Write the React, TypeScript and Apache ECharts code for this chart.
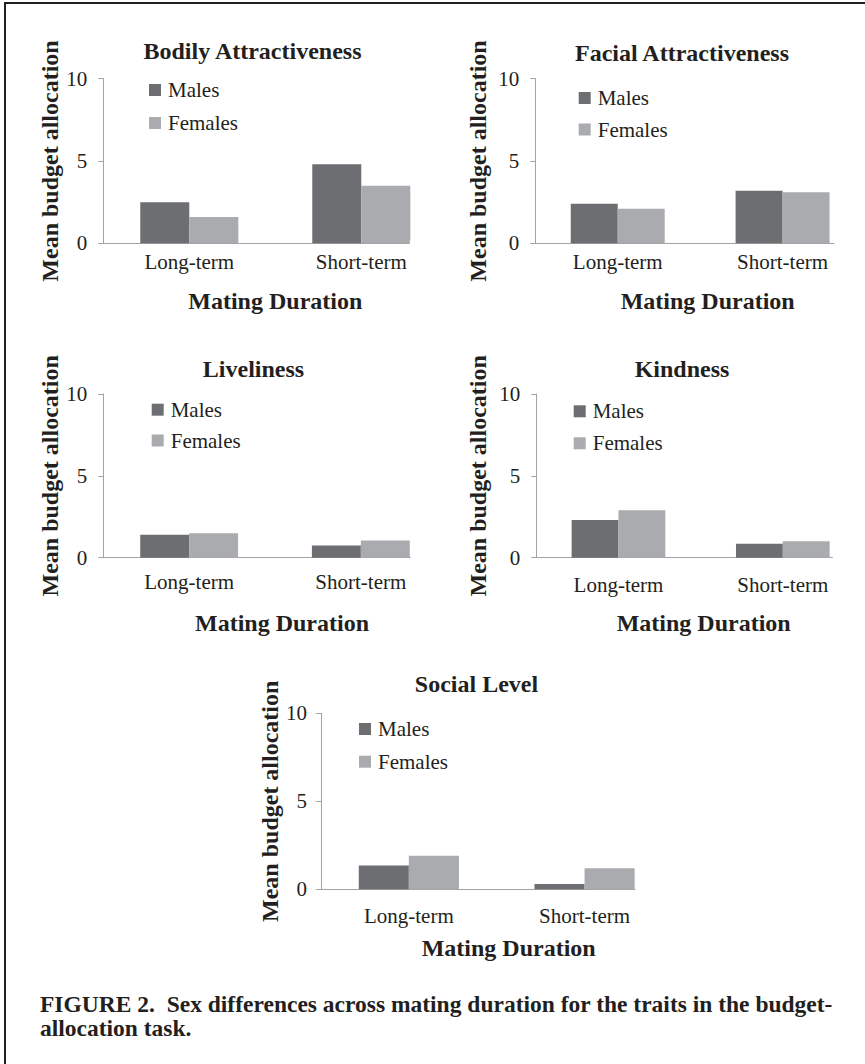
import React, { useEffect, useRef } from 'react';
import * as echarts from 'echarts';

// ---------- data ----------
const categories = ['Long-term', 'Short-term'];
const seriesNames = ['Males', 'Females'];
const traitTitles = ['Bodily Attractiveness', 'Facial Attractiveness', 'Liveliness', 'Kindness', 'Social Level'];
const bodilyMales = [2.5, 4.8];
const bodilyFemales = [1.6, 3.5];
const facialMales = [2.4, 3.2];
const facialFemales = [2.1, 3.1];
const livelinessMales = [1.4, 0.75];
const livelinessFemales = [1.5, 1.05];
const kindnessMales = [2.3, 0.85];
const kindnessFemales = [2.9, 1.0];
const socialMales = [1.35, 0.3];
const socialFemales = [1.9, 1.2];
const yMin = 0;
const yMax = 10;
const yInterval = 5;
const yAxisName = 'Mean budget allocation';
const xAxisName = 'Mating Duration';
const captionLines = [
  'FIGURE 2.  Sex differences across mating duration for the traits in the budget-',
  'allocation task.',
];

const malesData = [bodilyMales, facialMales, livelinessMales, kindnessMales, socialMales];
const femalesData = [bodilyFemales, facialFemales, livelinessFemales, kindnessFemales, socialFemales];

// ---------- layout ----------
const FONT = '"Liberation Serif", "Times New Roman", serif';
const TEXT = '#231f20';
const AXIS = '#a3a3a3';
const MALE_COLOR = '#6d6e71';
const FEMALE_COLOR = '#a9abae';
const LABEL_SIZE = 21;

const layouts = [
  { left: 103.3, top: 78.7, catW: 172, h: 164.6, visW: 306, tx: 252.5, ty: 51.3, lx: 149, ly: 79.5, lg: 12, yGap: 40, xGap: 46, xPad: 0, lm: 8, ym: 16 },
  { left: 535.3, top: 78.7, catW: 166.8, h: 164.6, visW: 298.5, tx: 682, ty: 53, lx: 578.7, ly: 87.5, lg: 10.5, yGap: 45.6, xGap: 46, xPad: 15, lm: 8, ym: 16 },
  { left: 103.3, top: 394, catW: 171.7, h: 163.7, visW: 307, tx: 253.5, ty: 369, lx: 151.7, ly: 399.2, lg: 9.8, yGap: 41, xGap: 53.6, xPad: 14, lm: 13.5, ym: 16 },
  { left: 536.3, top: 394, catW: 165.4, h: 163.7, visW: 296, tx: 682, ty: 369, lx: 573.7, ly: 400.8, lg: 11, yGap: 46.6, xGap: 53.6, xPad: 6, lm: 16.5, ym: 16 },
  { left: 321, top: 713.3, catW: 175.7, h: 176, visW: 314, tx: 476.5, ty: 683.7, lx: 359, ly: 718.5, lg: 11.7, yGap: 37, xGap: 47, xPad: 24, lm: 16.5, ym: 14 },
];

export default function App() {
  const ref = useRef<HTMLDivElement>(null);

  useEffect(() => {
    document.body.style.margin = '0';
    if (!ref.current) return;
    const chart = echarts.init(ref.current, undefined, { renderer: 'svg' });

    const grid: any[] = [];
    const xAxis: any[] = [];
    const yAxis: any[] = [];
    const series: any[] = [];
    const legend: any[] = [];
    const graphic: any[] = [];

    layouts.forEach((L, i) => {
      const fullW = L.catW * categories.length;
      grid.push({ left: L.left, top: L.top, width: fullW, height: L.h, containLabel: false });
      xAxis.push({
        type: 'category',
        gridIndex: i,
        data: categories,
        axisLine: { show: true, lineStyle: { color: AXIS, width: 1 } },
        axisTick: { show: false },
        axisLabel: { fontSize: LABEL_SIZE, fontFamily: FONT, color: TEXT, margin: L.lm },
        name: xAxisName,
        nameLocation: 'middle',
        nameGap: L.xGap,
        nameTextStyle: { fontSize: 24, fontWeight: 'bold', fontFamily: FONT, color: TEXT, padding: [0, 0, 0, L.xPad] },
      });
      yAxis.push({
        type: 'value',
        gridIndex: i,
        min: yMin,
        max: yMax,
        interval: yInterval,
        axisLine: { show: true, lineStyle: { color: AXIS, width: 1 } },
        axisTick: { show: true, length: 5, lineStyle: { color: AXIS } },
        axisLabel: { fontSize: LABEL_SIZE, fontFamily: FONT, color: TEXT, margin: L.ym },
        splitLine: { show: false },
        name: yAxisName,
        nameLocation: 'middle',
        nameRotate: 90,
        nameGap: L.yGap,
        nameTextStyle: { fontSize: 24, fontWeight: 'bold', fontFamily: FONT, color: TEXT },
      });
      series.push({
        type: 'bar',
        name: seriesNames[0],
        xAxisIndex: i,
        yAxisIndex: i,
        data: malesData[i],
        itemStyle: { color: MALE_COLOR },
        barGap: '0%',
        barCategoryGap: '43%',
      });
      series.push({
        type: 'bar',
        name: seriesNames[1],
        xAxisIndex: i,
        yAxisIndex: i,
        data: femalesData[i],
        itemStyle: { color: FEMALE_COLOR },
        barGap: '0%',
        barCategoryGap: '43%',
      });
      legend.push({
        left: L.lx,
        top: L.ly,
        orient: 'vertical',
        padding: 0,
        itemWidth: 12,
        itemHeight: 12,
        itemGap: L.lg,
        icon: 'rect',
        selectedMode: false,
        data: seriesNames,
        textStyle: { fontSize: LABEL_SIZE, fontFamily: FONT, color: TEXT, padding: [0, 0, 0, 2] },
      });
      graphic.push({
        type: 'text',
        x: L.tx,
        y: L.ty,
        z: 100,
        style: { text: traitTitles[i], font: `bold 24px ${FONT}`, fill: TEXT, align: 'center', verticalAlign: 'middle' },
      });
      // the source figure is cropped at the plot's right edge: hide the baseline beyond it
      const coverX = L.left + L.visW + 0.5;
      graphic.push({
        type: 'rect',
        z: 100,
        shape: { x: coverX, y: L.top + L.h - 3, width: L.left + fullW + 2 - coverX, height: 6 },
        style: { fill: '#ffffff' },
      });
    });

    // frame
    graphic.push({ type: 'line', z: 100, shape: { x1: 4, y1: 3, x2: 865, y2: 3 }, style: { stroke: TEXT, lineWidth: 2 } });
    graphic.push({ type: 'line', z: 100, shape: { x1: 5, y1: 2, x2: 5, y2: 1064 }, style: { stroke: TEXT, lineWidth: 2 } });

    // caption
    captionLines.forEach((t, k) => {
      graphic.push({
        type: 'text',
        x: 40,
        y: 1004 + k * 24,
        z: 100,
        style: { text: t, font: `bold 23.5px ${FONT}`, fill: TEXT, align: 'left', verticalAlign: 'middle' },
      });
    });

    chart.setOption({
      animation: false,
      backgroundColor: '#ffffff',
      grid,
      xAxis,
      yAxis,
      series,
      legend,
      graphic: { elements: graphic },
    });

    return () => {
      chart.dispose();
    };
  }, []);

  return <div ref={ref} style={{ width: 865, height: 1064 }} />;
}
